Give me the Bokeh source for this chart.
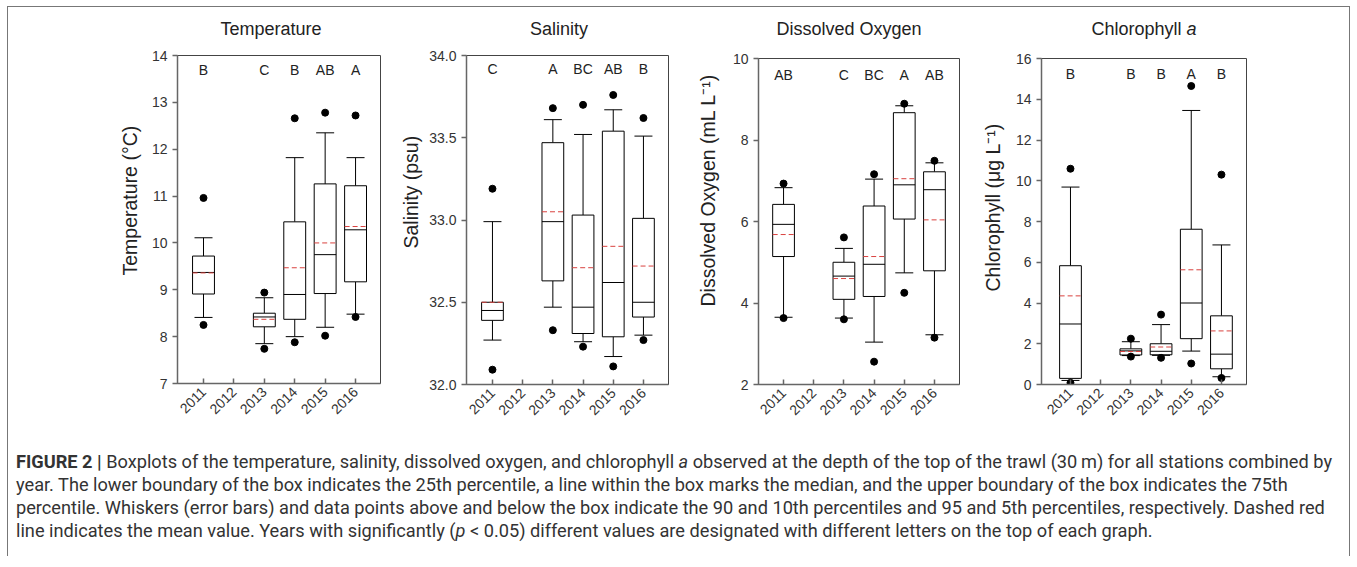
import math
from bokeh.plotting import figure
from bokeh.models import ColumnDataSource, Whisker, TeeHead, FixedTicker, Div, NumeralTickFormatter, Title
from bokeh.layouts import row, column
from bokeh.transform import dodge
from bokeh.core.properties import value
from bokeh.embed import file_html
from bokeh.resources import INLINE

# ---------------- data ----------------
years = [2011, 2013, 2014, 2015, 2016]
tick_years = [2011, 2012, 2013, 2014, 2015, 2016]

temp_p5 = [8.25, 7.74, 7.88, 8.02, 8.42]
temp_p10 = [8.41, 7.85, 8.00, 8.20, 8.48]
temp_q25 = [8.91, 8.21, 8.37, 8.92, 9.17]
temp_med = [9.37, 8.42, 8.90, 9.75, 10.28]
temp_mean = [9.36, 8.37, 9.47, 10.00, 10.35]
temp_q75 = [9.72, 8.50, 10.45, 11.26, 11.22]
temp_p90 = [10.11, 8.83, 11.82, 12.35, 11.82]
temp_p95 = [10.96, 8.94, 12.66, 12.78, 12.72]
temp_letters = ["B", "C", "B", "AB", "A"]

sal_p5 = [32.09, 32.33, 32.23, 32.11, 32.27]
sal_p10 = [32.27, 32.47, 32.26, 32.17, 32.30]
sal_q25 = [32.39, 32.63, 32.31, 32.29, 32.41]
sal_med = [32.45, 32.99, 32.47, 32.62, 32.50]
sal_mean = [32.50, 33.05, 32.71, 32.84, 32.72]
sal_q75 = [32.50, 33.47, 33.03, 33.54, 33.01]
sal_p90 = [32.99, 33.61, 33.52, 33.67, 33.51]
sal_p95 = [33.19, 33.68, 33.70, 33.76, 33.62]
sal_letters = ["C", "A", "BC", "AB", "B"]

do_p5 = [3.63, 3.60, 2.56, 4.25, 3.15]
do_p10 = [3.65, 3.63, 3.04, 4.74, 3.22]
do_q25 = [5.14, 4.09, 4.16, 6.06, 4.79]
do_med = [5.93, 4.66, 4.95, 6.90, 6.78]
do_mean = [5.68, 4.60, 5.14, 7.05, 6.04]
do_q75 = [6.42, 5.00, 6.38, 8.67, 7.22]
do_p90 = [6.83, 5.34, 7.04, 8.84, 7.44]
do_p95 = [6.93, 5.61, 7.16, 8.89, 7.49]
do_letters = ["AB", "C", "BC", "A", "AB"]

chl_p5 = [0.08, 1.37, 1.31, 1.03, 0.32]
chl_p10 = [0.20, 1.42, 1.43, 1.64, 0.38]
chl_q25 = [0.30, 1.45, 1.46, 2.25, 0.77]
chl_med = [2.97, 1.65, 1.63, 4.00, 1.49]
chl_mean = [4.35, 1.62, 1.84, 5.63, 2.63]
chl_q75 = [5.83, 1.75, 2.00, 7.62, 3.37]
chl_p90 = [9.69, 2.10, 2.94, 13.45, 6.85]
chl_p95 = [10.59, 2.25, 3.43, 14.65, 10.30]
chl_letters = ["B", "B", "B", "A", "B"]

FONT = "Liberation Sans"
DARK = "#222222"
AXC = "#666666"


def title_div(html, width, pad_left, pad_right):
    inner = ('<div style="width:%dpx;height:40px;box-sizing:border-box;padding-top:11px;'
             'padding-left:%dpx;padding-right:%dpx;text-align:center;'
             'font-family:\'Liberation Sans\',Arial,sans-serif;font-size:18px;line-height:22px;'
             'color:#222222;white-space:nowrap;">%s</div>') % (width, pad_left, pad_right, html)
    return Div(text=inner, width=width, height=40, margin=(0, 0, 0, 0))


def make_panel(title_html, ylabel, yr, yticks, stats, letters, letter_y, xr,
               frame_w, frame_h, left, right, top, bottom, lab_standoff, lab_offset,
               t_pad_left, t_pad_right, fmt=None):
    p = figure(frame_width=frame_w, frame_height=frame_h,
               min_border_left=left, min_border_right=right,
               min_border_top=top, min_border_bottom=bottom,
               x_range=xr, y_range=yr, output_backend="svg",
               toolbar_location=None, tools="")
    p.background_fill_color = "white"
    p.border_fill_color = "white"
    p.outline_line_color = "#444444"
    p.outline_line_width = 1
    p.xgrid.visible = False
    p.ygrid.visible = False

    src = ColumnDataSource(dict(x=years, p5=stats[0], p10=stats[1], q25=stats[2],
                                med=stats[3], mean=stats[4], q75=stats[5],
                                p90=stats[6], p95=stats[7], letters=letters))
    up = Whisker(source=src, base="x", lower="q75", upper="p90",
                 upper_head=TeeHead(size=18, line_color="black", line_width=1),
                 lower_head=None, line_color="black", line_width=1)
    lo = Whisker(source=src, base="x", lower="p10", upper="q25",
                 lower_head=TeeHead(size=18, line_color="black", line_width=1),
                 upper_head=None, line_color="black", line_width=1)
    p.add_layout(up)
    p.add_layout(lo)
    p.vbar(x="x", bottom="q25", top="q75", width=0.72, source=src,
           fill_color="white", line_color="black", line_width=1)
    p.segment(x0=dodge("x", -0.36), x1=dodge("x", 0.36), y0="med", y1="med",
              source=src, line_color="black", line_width=1)
    p.segment(x0=dodge("x", -0.36), x1=dodge("x", 0.36), y0="mean", y1="mean",
              source=src, line_color="#d9423f", line_width=1, line_dash="5 3")
    p.scatter(x="x", y="p95", source=src, size=7, color="black")
    p.scatter(x="x", y="p5", source=src, size=7, color="black")
    p.text(x="x", y=letter_y, text="letters", source=src, text_align="center",
           text_baseline="middle", text_font=value(FONT), text_font_size="14px",
           text_color=DARK)

    p.xaxis.ticker = FixedTicker(ticks=tick_years)
    p.xaxis.major_label_orientation = math.pi / 4
    p.xaxis.major_tick_in = 5
    p.xaxis.major_tick_out = 0
    p.xaxis.minor_tick_line_color = None
    p.xaxis.major_label_text_font = FONT
    p.xaxis.major_label_text_font_size = "14px"
    p.xaxis.major_label_text_color = "#333333"
    p.xaxis.major_label_standoff = 6

    p.yaxis.ticker = FixedTicker(ticks=yticks)
    if fmt:
        p.yaxis.formatter = NumeralTickFormatter(format=fmt)
    p.yaxis.major_tick_in = 0
    p.yaxis.major_tick_out = 5
    p.yaxis.minor_tick_line_color = None
    p.yaxis.major_label_text_font = FONT
    p.yaxis.major_label_text_font_size = "14px"
    p.yaxis.major_label_text_color = "#333333"
    p.yaxis.major_label_standoff = 5
    ylab = Title(text=ylabel, align="left", offset=lab_offset, standoff=lab_standoff,
                 text_font=FONT, text_font_size="19.5px", text_font_style="normal",
                 text_color=DARK)
    p.add_layout(ylab, "left")
    for ax in (p.xaxis, p.yaxis):
        ax.axis_line_color = AXC
        ax.axis_line_width = 1.5
        ax.major_tick_line_color = AXC
        ax.major_tick_line_width = 1.5
    width = left + frame_w + right
    return column(title_div(title_html, width, t_pad_left, t_pad_right), p)


p1 = make_panel("Temperature", "Temperature (°C)", (7, 14), list(range(7, 15)),
                (temp_p5, temp_p10, temp_q25, temp_med, temp_mean, temp_q75, temp_p90, temp_p95),
                temp_letters, 13.7, (2010.145, 2016.82),
                203, 328, 169, 9, 8, 45, 16, 108, 145, 0)
p2 = make_panel("Salinity", "Salinity (psu)", (32.0, 34.0), [32.0, 32.5, 33.0, 33.5, 34.0],
                (sal_p5, sal_p10, sal_q25, sal_med, sal_mean, sal_q75, sal_p90, sal_p95),
                sal_letters, 33.915, (2010.14, 2016.83),
                202, 329, 77, 5, 8, 44, 10, 136, 56, 0, fmt="0.0")
p3 = make_panel("Dissolved Oxygen", "Dissolved Oxygen (mL L\u207b\u00b9)", (2, 10), [2, 4, 6, 8, 10],
                (do_p5, do_p10, do_q25, do_med, do_mean, do_q75, do_p90, do_p95),
                do_letters, 9.6, (2010.17, 2016.83),
                201, 326, 85, 5, 11, 44, 22, 78, 61, 0)
p4 = make_panel("Chlorophyll <i>a</i>", "Chlorophyll  (\u03bcg L\u207b\u00b9)", (0, 16), list(range(0, 17, 2)),
                (chl_p5, chl_p10, chl_q25, chl_med, chl_mean, chl_q75, chl_p90, chl_p95),
                chl_letters, 15.22, (2010.04, 2016.83),
                205, 326, 77, 103, 11, 44, 18, 93, 0, 25)

caption_html = (
    '<div style="width:1341px;height:128px;box-sizing:border-box;padding-left:8px;padding-top:22px;'
    'font-family:Roboto,sans-serif;font-size:18.2px;line-height:23px;color:#333333;white-space:nowrap;">'
    "<b>FIGURE 2 |</b> Boxplots of the temperature, salinity, dissolved oxygen, and chlorophyll <i>a</i> "
    "observed at the depth of the top of the trawl (30&#8201;m) for all stations combined by<br>"
    "year. The lower boundary of the box indicates the 25th percentile, a line within the box marks the "
    "median, and the upper boundary of the box indicates the 75th<br>"
    "percentile. Whiskers (error bars) and data points above and below the box indicate the 90 and 10th "
    "percentiles and 95 and 5th percentiles, respectively. Dashed red<br>"
    "line indicates the mean value. Years with significantly (<i>p</i> &lt; 0.05) different values are "
    "designated with different letters on the top of each graph.</div>"
)
caption = Div(text=caption_html, width=1341, height=128, margin=(0, 0, 0, 0))

layout = column(row(p1, p2, p3, p4), caption, margin=(6, 0, 0, 7),
                styles={"border-top": "1px solid #777777", "border-left": "1px solid #777777",
                        "border-right": "1px solid #777777", "background-color": "white"})

open("out.html", "w").write(file_html(layout, INLINE))
